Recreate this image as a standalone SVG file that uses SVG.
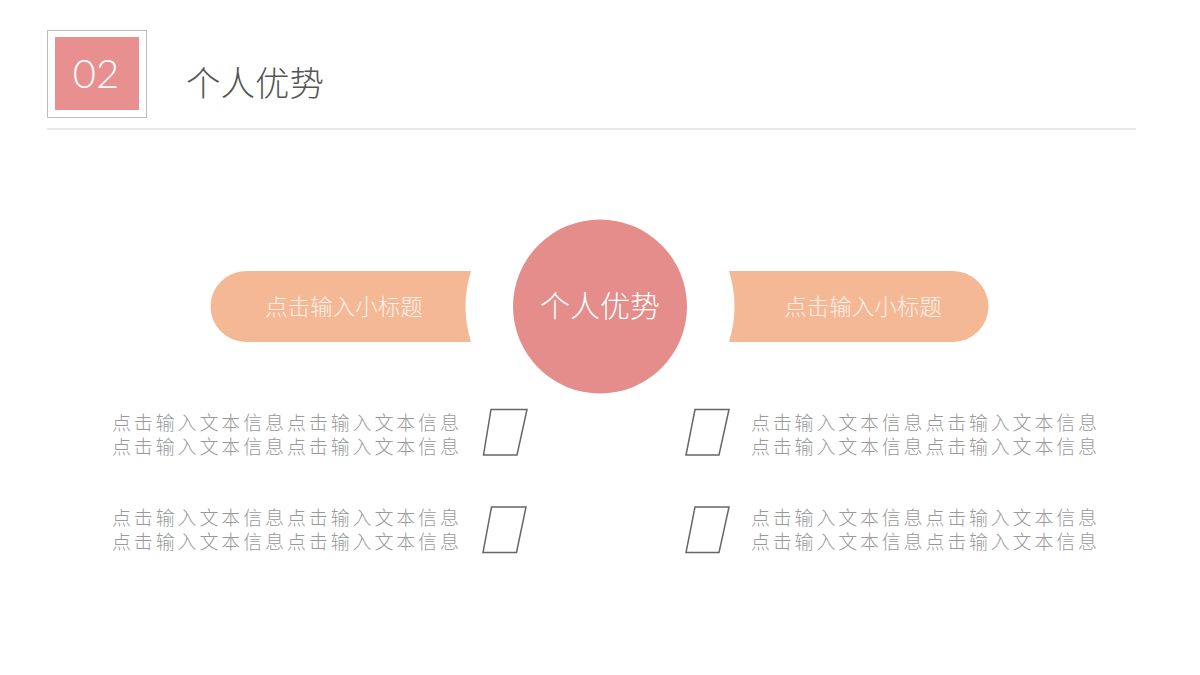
<svg xmlns="http://www.w3.org/2000/svg" width="1200" height="675" viewBox="0 0 1200 675">
<style>
.cjk{font-family:"Noto Sans CJK SC","Noto Sans",sans-serif;}
.body{font-size:19px;fill:#9a9a9a;font-weight:300;}
.pilltxt{font-size:22.5px;fill:#fdf1ea;font-weight:300;text-anchor:middle;}
.pill{fill:#f5b895;}
.para{fill:#fff;stroke:#666;stroke-width:1.5;stroke-linejoin:miter;}
</style>
<rect width="1200" height="675" fill="#fff"/>
<g id="header">
<rect x="47.5" y="30.5" width="99" height="87" fill="#fff" stroke="#bdbdbd" stroke-width="1"/>
<rect x="55" y="37" width="84" height="73" fill="#e8908f"/>
<text x="96" y="88" font-family="Lato,'Open Sans',sans-serif" font-weight="300" font-size="40" fill="#fff" text-anchor="middle">02</text>
<text x="186" y="96" class="cjk" font-size="34.5" fill="#555" font-weight="300">个人优势</text>
<line x1="47" y1="129" x2="1136" y2="129" stroke="#cfcfcf" stroke-width="1.2"/>
</g>
<g id="connectors"></g>
<g id="pill-left">
<path class="pill" d="M246,271 L471,271 A120,120 0 0 0 471,342 L246,342 A35.5,35.5 0 0 1 246,271 Z"/>
<text x="344" y="315" class="cjk pilltxt">点击输入小标题</text>
</g>
<g id="center">
<circle cx="600" cy="306.5" r="87" fill="#e48d8b"/>
<text x="600" y="317" class="cjk" font-size="30" fill="#fff" font-weight="300" text-anchor="middle">个人优势</text>
</g>
<g id="pill-right">
<path class="pill" d="M729,271 L953,271 A35.5,35.5 0 0 1 953,342 L729,342 A120,120 0 0 0 729,271 Z"/>
<text x="863" y="315" class="cjk pilltxt">点击输入小标题</text>
</g>
<g id="item-lt">
<text class="cjk body" x="112" y="430" textLength="347" lengthAdjust="spacing">点击输入文本信息点击输入文本信息</text>
<text class="cjk body" x="112" y="454" textLength="347" lengthAdjust="spacing">点击输入文本信息点击输入文本信息</text>
<polygon class="para" points="491,409.5 527,409.5 517,455 483.5,455"/>
</g>
<g id="item-lb">
<text class="cjk body" x="112" y="525" textLength="347" lengthAdjust="spacing">点击输入文本信息点击输入文本信息</text>
<text class="cjk body" x="112" y="549" textLength="347" lengthAdjust="spacing">点击输入文本信息点击输入文本信息</text>
<polygon class="para" points="491.5,507 526,507 516.5,552.5 483,552.5"/>
</g>
<g id="item-rt">
<polygon class="para" points="695,409.5 729,409.5 719,455 686,455"/>
<text class="cjk body" x="751" y="430" textLength="346" lengthAdjust="spacing">点击输入文本信息点击输入文本信息</text>
<text class="cjk body" x="751" y="454" textLength="346" lengthAdjust="spacing">点击输入文本信息点击输入文本信息</text>
</g>
<g id="item-rb">
<polygon class="para" points="695,507 729,507 719,552.5 686,552.5"/>
<text class="cjk body" x="751" y="525" textLength="346" lengthAdjust="spacing">点击输入文本信息点击输入文本信息</text>
<text class="cjk body" x="751" y="549" textLength="346" lengthAdjust="spacing">点击输入文本信息点击输入文本信息</text>
</g>
</svg>
